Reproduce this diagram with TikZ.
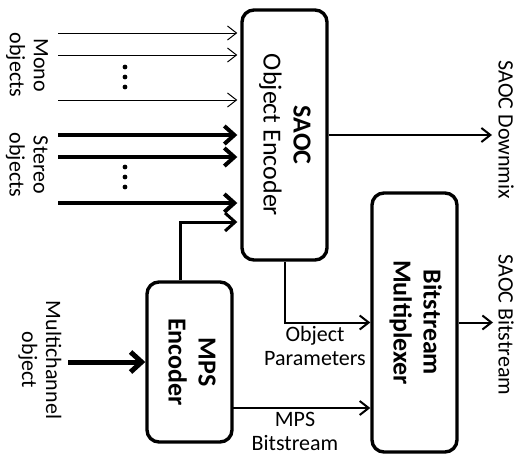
\documentclass[tikz,border=0pt]{standalone}
\usepackage{fontspec}
\setmainfont{Carlito}
\usetikzlibrary{arrows.meta, positioning, calc}

\begin{document}
\begin{tikzpicture}[x=0.5pt, y=-0.5pt,
    block/.style={draw, line width=1.7pt, rounded corners=6pt, minimum width=42.5pt,
        inner sep=0pt, font=\fontsize{13}{15}\selectfont},
    lbl/.style={font=\fontsize{11}{12}\selectfont, align=center, inner sep=0pt},
    vlbl/.style={lbl, rotate=-90},
    monoarr/.style={line width=0.5pt, -{Straight Barb[length=4.5pt, width=7pt]}, shorten >=1.5pt},
    stereoarr/.style={line width=2pt, -{Straight Barb[length=5pt, width=9pt]}, shorten >=1.5pt},
    sigarr/.style={line width=1pt, -{Straight Barb[length=4.5pt, width=7pt]}},
]
    \useasboundingbox (0,0) rectangle (517,455);

    % blocks
    \node[block, minimum height=125pt] (saoc) at (284.5,135)
        {\rotatebox{-90}{\begin{tabular}{@{}c@{}}\textbf{SAOC}\\ Object Encoder\end{tabular}}};
    \node[block, minimum height=80pt] (mps) at (189.5,362)
        {\rotatebox{-90}{\begin{tabular}{@{}c@{}}\textbf{MPS}\\ \textbf{Encoder}\end{tabular}}};
    \node[block, minimum height=129.5pt] (mux) at (414.5,322.5)
        {\rotatebox{-90}{\begin{tabular}{@{}c@{}}\textbf{Bitstream}\\ \textbf{Multiplexer}\end{tabular}}};

    % input objects
    \foreach \y [count=\i] in {33,55,100} {
        \coordinate (mono\i) at (58,\y);
        \draw[monoarr] (mono\i) -- (mono\i -| saoc.west);
    }
    \foreach \y [count=\i] in {135,157,203} {
        \coordinate (ster\i) at (58,\y);
        \draw[stereoarr] (ster\i) -- (ster\i -| saoc.west);
    }
    \foreach \y in {67,77,87,167,177,187}
        \fill (125,\y) circle (1.2pt);

    \node[vlbl] (monolbl) at (27,65) {Mono\\objects};
    \node[vlbl] (sterlbl) at (27,165) {Stereo\\objects};

    % multichannel object
    \coordinate (mch) at (68,362);
    \draw[line width=2.5pt, -{Straight Barb[length=5.5pt, width=10pt]}] (mch) -- (mps.west);
    \node[vlbl] (mchlbl) at (40,360) {Multichannel\\object};

    \coordinate (bend) at (180,222);
    \draw[line width=1.5pt, -{Straight Barb[length=5pt, width=9pt]}, shorten >=1.5pt]
        (mps.north -| bend) -- (bend) -- (bend -| saoc.west);

    % outputs
    \coordinate (dmx) at (492,135);
    \draw[sigarr] (saoc.east |- dmx) -- (dmx);
    \node[vlbl] (dmxlbl) at (506,130) {SAOC Downmix};

    \draw[sigarr] (saoc.south) |- (mux.west);
    \node[lbl] (parlbl) at (315,346) {Object\\Parameters};

    \coordinate (mpsbs) at (232,408);
    \draw[sigarr] (mpsbs) -- (mpsbs -| mux.west);
    \node[lbl] (mpslbl) at (295,431) {MPS\\Bitstream};

    \coordinate (bs) at (493,322.5);
    \draw[sigarr] (mux.east) -- (bs);
    \node[vlbl] (bslbl) at (506,325) {SAOC Bitstream};
\end{tikzpicture}
\end{document}
